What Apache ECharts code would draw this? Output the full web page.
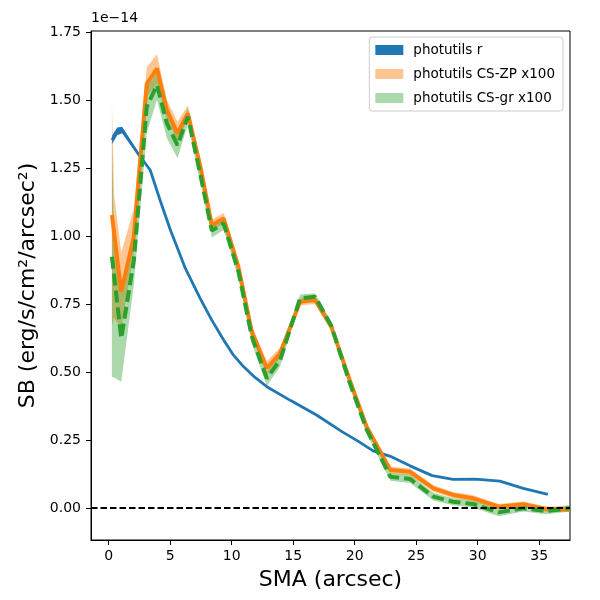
<!DOCTYPE html>
<html>
<head>
<meta charset="utf-8">
<script src="https://cdn.jsdelivr.net/npm/echarts@6/dist/echarts.min.js"></script>
<style>
html, body { margin: 0; padding: 0; background: #fff; }
#main { width: 600px; height: 600px; }
</style>
</head>
<body>
<div id="main"></div>
<script>
// surface brightness profiles, in units of 1e-14
var smaR = [0.27, 0.7, 1.1, 2.44, 3.38, 4.2, 5.0, 6.2, 7.44, 8.4, 9.35, 10.1, 10.96, 11.9, 12.86, 14.8, 16.9, 19.0, 20.3, 21.5, 22.9, 24.5, 26.3, 28.0, 29.8, 31.8, 33.7, 35.7];
var sbR = [1.353, 1.385, 1.39, 1.30, 1.243, 1.13, 1.025, 0.885, 0.771, 0.69, 0.618, 0.565, 0.52, 0.48, 0.446, 0.395, 0.342, 0.28, 0.245, 0.21, 0.19, 0.155, 0.119, 0.105, 0.106, 0.099, 0.072, 0.05];
var sbRErr = [0.016, 0.014, 0.012, 0.006, 0.004, 0.003, 0.003, 0.002, 0.002, 0.002, 0.002, 0.002, 0.002, 0.002, 0.002, 0.002, 0.002, 0.002, 0.002, 0.002, 0.002, 0.002, 0.002, 0.002, 0.002, 0.002, 0.002, 0.002];

var smaCS = [0.27, 0.45, 1.03, 2.05, 3.1, 3.93, 4.74, 5.6, 6.44, 7.44, 8.39, 9.35, 10.55, 11.64, 12.86, 13.94, 15.56, 16.78, 18.1, 19.6, 20.96, 22.9, 24.5, 26.4, 28.0, 29.6, 31.7, 33.7, 35.6, 37.5];

var sbZP = [1.077, 1.01, 0.795, 0.997, 1.56, 1.616, 1.463, 1.377, 1.451, 1.26, 1.04, 1.065, 0.887, 0.648, 0.514, 0.569, 0.758, 0.765, 0.667, 0.47, 0.30, 0.14, 0.133, 0.072, 0.048, 0.036, 0.005, 0.014, -0.004, -0.005];
var zpLo = [0.67, 0.70, 0.66, 0.94, 1.51, 1.56, 1.43, 1.35, 1.43, 1.235, 1.02, 1.045, 0.87, 0.63, 0.49, 0.55, 0.745, 0.75, 0.655, 0.46, 0.29, 0.128, 0.12, 0.06, 0.037, 0.025, -0.005, 0.004, -0.014, -0.015];
var zpHi = [1.49, 1.15, 0.94, 1.10, 1.62, 1.669, 1.50, 1.42, 1.48, 1.285, 1.06, 1.085, 0.91, 0.67, 0.54, 0.59, 0.77, 0.78, 0.68, 0.48, 0.31, 0.152, 0.145, 0.084, 0.059, 0.047, 0.015, 0.024, 0.006, 0.005];

var sbGR = [0.924, 0.853, 0.624, 0.91, 1.475, 1.555, 1.414, 1.334, 1.439, 1.23, 1.02, 1.047, 0.87, 0.63, 0.477, 0.544, 0.771, 0.777, 0.67, 0.46, 0.29, 0.115, 0.107, 0.042, 0.023, 0.015, -0.016, -0.001, -0.011, -0.001];
var grLo = [0.483, 0.48, 0.464, 0.82, 1.38, 1.50, 1.36, 1.286, 1.41, 1.20, 0.995, 1.022, 0.845, 0.605, 0.45, 0.52, 0.755, 0.76, 0.655, 0.445, 0.275, 0.10, 0.092, 0.028, 0.01, 0.002, -0.03, -0.013, -0.023, -0.013];
var grHi = [1.35, 0.98, 0.83, 0.99, 1.55, 1.60, 1.46, 1.38, 1.47, 1.26, 1.045, 1.072, 0.895, 0.655, 0.50, 0.565, 0.785, 0.79, 0.685, 0.475, 0.305, 0.13, 0.122, 0.056, 0.036, 0.028, -0.002, 0.011, 0.001, 0.011];

var xTicks = [0, 5, 10, 15, 20, 25, 30, 35];
var yTicks = [0, 0.25, 0.5, 0.75, 1.0, 1.25, 1.5, 1.75];

var font = 'DejaVu Sans';

function pairs(xs, ys) {
	return xs.map(function(x, i) { return [x, ys[i]]; });
}

// fill_between as one polygon: upper edge forward, lower edge back
function band(name, xs, lo, hi, fill) {
	return {
		name: name,
		type: 'custom',
		coordinateSystem: 'cartesian2d',
		clip: true,
		silent: true,
		itemStyle: { color: fill },
		data: [[xs[0], hi[0]]],
		renderItem: function(params, api) {
			var pts = [];
			for (var i = 0; i < xs.length; i++) {
				pts.push(api.coord([xs[i], hi[i]]));
			}
			for (var j = xs.length - 1; j >= 0; j--) {
				pts.push(api.coord([xs[j], lo[j]]));
			}
			return {
				type: 'polygon',
				shape: { points: pts },
				style: { fill: fill, stroke: null }
			};
		}
	};
}

var rLo = sbR.map(function(v, i) { return v - sbRErr[i]; });
var rHi = sbR.map(function(v, i) { return v + sbRErr[i]; });

var series = [
	band('photutils r', smaR, rLo, rHi, '#1f77b4'),
	{
		name: 'r_line', type: 'line', data: pairs(smaR, sbR), showSymbol: false,
		lineStyle: { color: '#1f77b4', width: 2.8 }, silent: true
	},
	band('photutils CS-ZP x100', smaCS, zpLo, zpHi, 'rgba(255,127,14,0.45)'),
	{
		name: 'zp_line', type: 'line', data: pairs(smaCS, sbZP), showSymbol: false,
		lineStyle: { color: '#ff7f0e', width: 4 }, silent: true
	},
	band('photutils CS-gr x100', smaCS, grLo, grHi, 'rgba(44,160,44,0.4)'),
	{
		name: 'gr_line', type: 'line', data: pairs(smaCS, sbGR), showSymbol: false,
		lineStyle: { color: '#2ca02c', width: 4, type: [12, 5] }, silent: true
	},
	{
		name: 'zero', type: 'line', data: [[-1.43, 0], [37.5, 0]], showSymbol: false, z: 5,
		lineStyle: { color: '#000', width: 2, type: [6.5, 3] }, silent: true
	}
];

var myChart = echarts.init(document.getElementById('main'), null, { renderer: 'canvas' });

var option = {
	animation: false,
	backgroundColor: '#fff',
	textStyle: { fontFamily: font },
	grid: {
		left: 91, right: 30, top: 31, bottom: 60,
		show: true, borderColor: '#000', borderWidth: 1, backgroundColor: 'transparent'
	},
	legend: {
		orient: 'vertical',
		right: 37,
		top: 37,
		data: ['photutils r', 'photutils CS-ZP x100', 'photutils CS-gr x100'],
		icon: 'rect',
		itemWidth: 28,
		itemHeight: 10,
		itemGap: 10,
		padding: [6, 8, 6, 6],
		borderColor: '#cccccc',
		borderWidth: 1,
		borderRadius: 3,
		backgroundColor: 'rgba(255,255,255,0.8)',
		textStyle: { fontFamily: font, fontSize: 13.5, color: '#000', padding: [0, 0, 0, 5] }
	},
	xAxis: {
		type: 'value',
		min: -1.43,
		max: 37.5,
		name: 'SMA (arcsec)',
		nameLocation: 'middle',
		nameGap: 29,
		nameTextStyle: { fontFamily: font, fontSize: 22, color: '#000' },
		axisLine: { show: true, onZero: false, lineStyle: { color: '#000', width: 1 } },
		axisTick: { show: true, inside: false, length: 5, customValues: xTicks, lineStyle: { color: '#000' } },
		axisLabel: { customValues: xTicks, fontFamily: font, fontSize: 14, color: '#000', margin: 9 },
		splitLine: { show: false }
	},
	yAxis: {
		type: 'value',
		min: -0.1176,
		max: 1.754,
		name: 'SB (erg/s/cm²/arcsec²)',
		nameLocation: 'middle',
		nameGap: 52,
		nameTextStyle: { fontFamily: font, fontSize: 22, color: '#000' },
		axisLine: { show: true, onZero: false, lineStyle: { color: '#000', width: 1 } },
		axisTick: { show: true, inside: false, length: 5, customValues: yTicks, lineStyle: { color: '#000' } },
		axisLabel: {
			customValues: yTicks, fontFamily: font, fontSize: 14, color: '#000', margin: 10,
			formatter: function(v) { return v.toFixed(2); }
		},
		splitLine: { show: false }
	},
	graphic: [{
		type: 'text',
		left: 91,
		top: 11,
		style: { text: '1e\u221214', fontFamily: font, fontSize: 14, fill: '#000' }
	}],
	series: series
};
myChart.setOption(option);
</script>
</body>
</html>
